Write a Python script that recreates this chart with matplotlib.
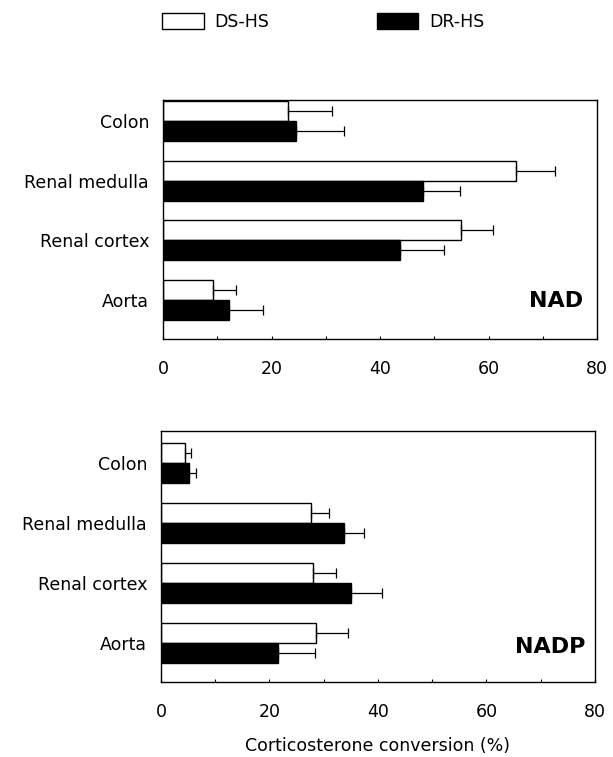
import numpy as np
import matplotlib.pyplot as plt

plt.rcParams['font.family'] = ['DejaVu Sans']

# tissues, bottom to top
tissues = ['Aorta', 'Renal cortex', 'Renal medulla', 'Colon']

# NAD-dependent conversion (%)
nad_ds = [9.2, 55.0, 65.0, 23.0]
nad_ds_err = [4.2, 5.9, 7.2, 8.2]
nad_dr = [12.2, 43.6, 47.9, 24.6]
nad_dr_err = [6.3, 8.1, 6.9, 8.7]

# NADP-dependent conversion (%)
nadp_ds = [28.5, 28.1, 27.6, 4.5]
nadp_ds_err = [6.0, 4.1, 3.4, 1.0]
nadp_dr = [21.5, 35.0, 33.7, 5.2]
nadp_dr_err = [6.9, 5.8, 3.7, 1.3]

xticks = [0, 20, 40, 60, 80]


def draw_panel(ax, ds, ds_err, dr, dr_err, tag, ytop, tag_x, tag_y):
    y = np.arange(len(tissues))
    h = 1.0 / 3
    zeros = np.zeros(len(tissues))
    b1 = ax.barh(y + h / 2, ds, height=h, color='white', edgecolor='black', linewidth=1.0)
    b2 = ax.barh(y - h / 2, dr, height=h, color='black', edgecolor='black', linewidth=1.0)
    ax.errorbar(ds, y + h / 2, xerr=[zeros, ds_err], fmt='none', ecolor='black',
                elinewidth=0.9, capsize=3.5, capthick=0.9)
    ax.errorbar(dr, y - h / 2, xerr=[zeros, dr_err], fmt='none', ecolor='black',
                elinewidth=0.9, capsize=3.5, capthick=0.9)
    ax.set_xlim(0, 80)
    ax.set_ylim(-0.65, ytop)
    ax.set_xticks(xticks)
    ax.set_xticklabels([str(t) for t in xticks])
    ax.set_xticks([10, 30, 50, 70], minor=True)
    ax.tick_params(axis='x', which='both', direction='in', length=2.5, width=0.8,
                   pad=15, labelsize=12.5)
    ax.set_yticks(y)
    ax.set_yticklabels(tissues)
    ax.tick_params(axis='y', length=0, pad=10, labelsize=12.5)
    for s in ax.spines.values():
        s.set_linewidth(1.0)
    ax.text(tag_x, tag_y, tag, transform=ax.transAxes, ha='right', va='center',
            fontsize=16, fontweight='bold')
    return b1, b2


fig = plt.figure(figsize=(6.13, 7.57), dpi=100)
ax1 = fig.add_axes([0.2659, 0.5522, 0.7081, 0.3157])
ax2 = fig.add_axes([0.2626, 0.0991, 0.7080, 0.3315])

b1, b2 = draw_panel(ax1, nad_ds, nad_ds_err, nad_dr, nad_dr_err, 'NAD', 3.35, 0.967, 0.16)
draw_panel(ax2, nadp_ds, nadp_ds_err, nadp_dr, nadp_dr_err, 'NADP', 3.53, 0.977, 0.14)
ax2.set_xlabel('Corticosterone conversion (%)', fontsize=12.5, labelpad=12)

fig.legend([b1, b2], ['DS-HS', 'DR-HS'], loc='upper left',
           bbox_to_anchor=(0.239, 1.004), ncol=2, frameon=False, fontsize=12.5,
           handlelength=2.4, handleheight=1.1, handletextpad=0.6,
           columnspacing=6.2)

fig.savefig('out.png', dpi=100)
